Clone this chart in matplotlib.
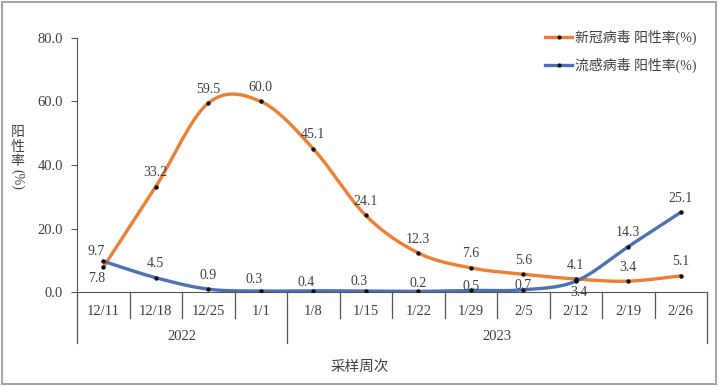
import numpy as np
import matplotlib; matplotlib.use("Agg")
import matplotlib.pyplot as plt
from matplotlib.lines import Line2D
from matplotlib.patches import Rectangle
import matplotlib.transforms as mtrans

plt.rcParams['font.family'] = ['Liberation Serif', 'Noto Sans CJK SC']

weeks = ["12/11", "12/18", "12/25", "1/1", "1/8", "1/15", "1/22", "1/29",
         "2/5", "2/12", "2/19", "2/26"]
years = ["2022", "2023"]
year_sizes = [4, 8]
covid = [7.8, 33.2, 59.5, 60.0, 45.1, 24.1, 12.3, 7.6, 5.6, 4.1, 3.4, 5.1]
flu = [9.7, 4.5, 0.9, 0.3, 0.4, 0.3, 0.2, 0.5, 0.7, 3.4, 14.3, 25.1]
names = ["新冠病毒 阳性率(%)", "流感病毒 阳性率(%)"]

ORANGE = "#EC7F33"; BLUE = "#4A72B5"; TXT = "#404040"

# label offsets in points (dx, dy); default above
cov_off = {0: (-5, -8)}
flu_off = {0: (-5, 7), 3: (-5, 8), 4: (-5, 6), 5: (-5, 7), 6: (0, 6),
           7: (0, 3), 8: (0, 3), 9: (2, -8)}


def smooth(y, n=30):
    # Excel-style smoothed line: cubic Bezier with Catmull-Rom control points
    x = np.arange(len(y), dtype=float); y = np.asarray(y, float)
    P = np.column_stack([x, y])
    out = []
    for i in range(len(P) - 1):
        p0 = P[max(i - 1, 0)]; p1 = P[i]; p2 = P[i + 1]; p3 = P[min(i + 2, len(P) - 1)]
        c1 = p1 + (p2 - p0) / 6; c2 = p2 - (p3 - p1) / 6
        t = np.linspace(0, 1, n)[:, None]
        out.append((1-t)**3*p1 + 3*(1-t)**2*t*c1 + 3*(1-t)*t**2*c2 + t**3*p2)
    return np.vstack(out)


fig = plt.figure(figsize=(7.2, 3.86), dpi=100)
ax = fig.add_axes([0.107, 0.2435, 0.875, 0.6581])
xs = np.arange(len(weeks))

for vals, col, offs in ((covid, ORANGE, cov_off), (flu, BLUE, flu_off)):
    c = smooth(vals)
    ax.plot(c[:, 0], c[:, 1], color=col, lw=2.4, solid_capstyle="round", zorder=2)
    ax.plot(xs, vals, "o", ms=2.2, color="#111111", zorder=3)
    for i, v in enumerate(vals):
        dx, dy = offs.get(i, (0, 10))
        ax.annotate(f"{v:.1f}", (i, v), xytext=(dx, dy), textcoords="offset points",
                    ha="center", va="center", fontsize=10, color=TXT, zorder=4)

ax.set_xlim(-0.5, len(weeks) - 0.5)
ax.set_ylim(0, 80)
ax.set_yticks(np.arange(0, 81, 20))
ax.set_yticklabels([f"{t:.1f}" for t in np.arange(0, 81, 20)], fontsize=10.5, color=TXT)
ax.tick_params(axis="y", length=4, color="#555555", pad=6)
ax.set_xticks([])
for s in ("top", "right"):
    ax.spines[s].set_visible(False)
ax.spines["left"].set_color("#555555")
ax.spines["bottom"].set_color("#555555")

# category axis: week labels, separators, year groups
tr = mtrans.blended_transform_factory(ax.transData, ax.transAxes)
for i, w in enumerate(weeks):
    ax.text(i, -0.076, w, transform=tr, ha="center", va="center", fontsize=10.5, color=TXT)
bounds = np.cumsum([0] + year_sizes) - 0.5
for b in np.arange(len(weeks) + 1) - 0.5:
    deep = b in bounds
    ax.plot([b, b], [0, -0.2 if deep else -0.102], transform=tr, color="#555555",
            lw=0.9, clip_on=False)
for k, yname in enumerate(years):
    ax.text((bounds[k] + bounds[k + 1]) / 2, -0.175, yname, transform=tr,
            ha="center", va="center", fontsize=10.5, color=TXT)

fig.text(0.5, 0.05, "采样周次", ha="center", va="center", fontsize=10.5, color=TXT)
fig.text(0.024, 0.619, "阳\n性\n率", ha="center", va="center", fontsize=10,
         color=TXT, linespacing=1.15)
fig.text(0.024, 0.535, "(%)", ha="center", va="center", fontsize=10, color=TXT,
         rotation=-90)

handles = [Line2D([], [], color=c, lw=2.4, marker="o", ms=2, mfc="#111111",
                  mec="#111111") for c in (ORANGE, BLUE)]
fig.legend(handles, names, loc="upper right", bbox_to_anchor=(0.985, 0.955),
           frameon=False, fontsize=10, handlelength=2.0, handletextpad=0.2,
           labelspacing=0.95, labelcolor=TXT)

fig.patches.append(Rectangle((0.003, 0.005), 0.992, 0.99, transform=fig.transFigure,
                             fill=False, ec="#a6a6a6", lw=1.5))
fig.savefig("out.png", dpi=100)
